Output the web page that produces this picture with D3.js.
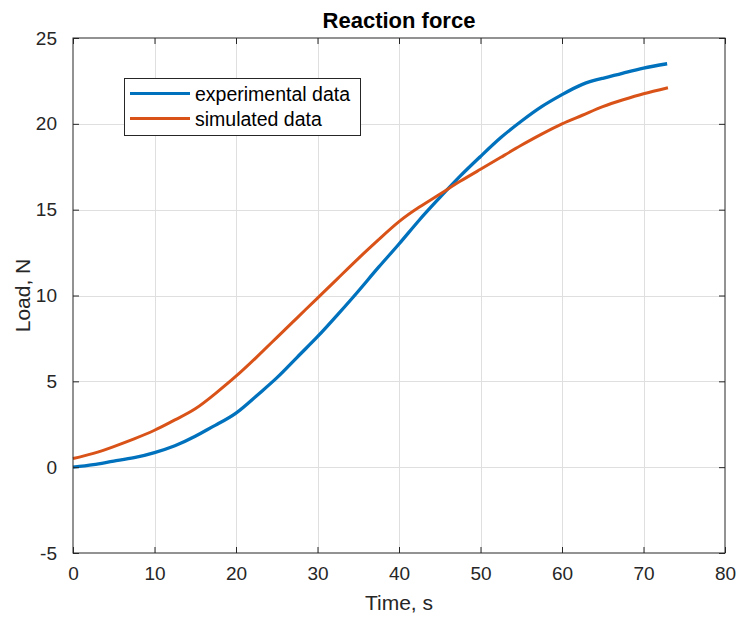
<!DOCTYPE html>
<html>
<head>
<meta charset="utf-8">
<script src="https://cdn.jsdelivr.net/npm/d3@7.9.0/dist/d3.min.js"></script>
<style>
  body { margin: 0; background: #fff; }
  svg { display: block; font-family: "Liberation Sans", Arial, Helvetica, sans-serif; }
  .tick text { fill: #262626; }
</style>
</head>
<body>
<div id="chart"></div>
<script>
// time samples (s)
const timeExp = [0, 2.5, 5, 7.5, 10, 12.5, 15, 17.5, 20, 22.5, 25, 27.5, 30, 32.5, 35, 37.5,
  40, 42.5, 45, 47.5, 50, 52.5, 55, 57.5, 60, 62.5, 65, 67.5, 70, 72.9];
const experimental = [0, 0.15, 0.35, 0.55, 0.85, 1.25, 1.8, 2.45, 3.15, 4.15, 5.2, 6.4, 7.6, 8.9, 10.25, 11.65,
  13.0, 14.4, 15.7, 16.95, 18.1, 19.2, 20.15, 21.0, 21.7, 22.3, 22.65, 22.95, 23.25, 23.5];

const timeSim = [0, 2.5, 5, 7.5, 10, 12.5, 15, 17.5, 20, 22.5, 25, 27.5, 30, 32.5, 35, 37.5,
  40, 42.5, 45, 47.5, 50, 52.5, 55, 57.5, 60, 62.5, 65, 67.5, 70, 73];
const simulated = [0.5, 0.8, 1.2, 1.65, 2.15, 2.75, 3.4, 4.3, 5.3, 6.4, 7.55, 8.7, 9.85, 11.0, 12.15, 13.25,
  14.3, 15.15, 15.9, 16.65, 17.35, 18.05, 18.75, 19.4, 20.0, 20.5, 21.0, 21.4, 21.75, 22.1];

const xTicks = [0, 10, 20, 30, 40, 50, 60, 70, 80];
const yTicks = [-5, 0, 5, 10, 15, 20, 25];

const seriesNames = ['experimental data', 'simulated data'];
const colors = ['#0072BD', '#D95319'];

const width = 739, height = 617;
const plot = { left: 73, right: 725, top: 38, bottom: 553 };

const svg = d3.select('#chart').append('svg')
  .attr('width', width)
  .attr('height', height);

const x = d3.scaleLinear().domain([0, 80]).range([plot.left, plot.right]);
const y = d3.scaleLinear().domain([-5, 25]).range([plot.bottom, plot.top]);

// gridlines
const grid = svg.append('g').attr('stroke', '#dfdfdf').attr('stroke-width', 1);
grid.selectAll('line.gx')
  .data(xTicks.slice(1, -1))
  .join('line')
  .attr('x1', d => Math.round(x(d)) + 0.5).attr('x2', d => Math.round(x(d)) + 0.5)
  .attr('y1', plot.top).attr('y2', plot.bottom);
grid.selectAll('line.gy')
  .data(yTicks.slice(1, -1))
  .join('line')
  .attr('y1', d => Math.round(y(d)) + 0.5).attr('y2', d => Math.round(y(d)) + 0.5)
  .attr('x1', plot.left).attr('x2', plot.right);

// lines
const series = [
  { t: timeExp, v: experimental },
  { t: timeSim, v: simulated },
];
const line = d3.line()
  .x(d => x(d[0]))
  .y(d => y(d[1]))
  .curve(d3.curveNatural);

svg.append('g').selectAll('path')
  .data(series)
  .join('path')
  .attr('fill', 'none')
  .attr('stroke', (d, i) => colors[i])
  .attr('stroke-width', (d, i) => i === 0 ? 3.3 : 3)
  .attr('stroke-linejoin', 'round')
  .attr('d', d => line(d.t.map((t, i) => [t, d.v[i]])));

// axes (ticks inward, box on)
const axisColor = '#262626';
const fmt = d => String(d); // plain hyphen minus like the original
function styleAxis(g) {
  g.select('.domain').remove();
  g.selectAll('.tick line').attr('stroke', axisColor);
  g.selectAll('.tick text').style('font-size', '19px');
}

svg.append('g')
  .attr('transform', `translate(0,${plot.bottom})`)
  .call(d3.axisBottom(x).tickValues(xTicks).tickFormat(fmt).tickSizeInner(-6).tickSizeOuter(0).tickPadding(14))
  .call(styleAxis);

svg.append('g')
  .attr('transform', `translate(0,${plot.top})`)
  .call(d3.axisTop(x).tickValues(xTicks).tickSizeInner(-6).tickSizeOuter(0).tickFormat(''))
  .call(styleAxis);

svg.append('g')
  .attr('transform', `translate(${plot.left},0)`)
  .call(d3.axisLeft(y).tickValues(yTicks).tickFormat(fmt).tickSizeInner(-6).tickSizeOuter(0).tickPadding(16))
  .call(styleAxis);

svg.append('g')
  .attr('transform', `translate(${plot.right},0)`)
  .call(d3.axisRight(y).tickValues(yTicks).tickSizeInner(-6).tickSizeOuter(0).tickFormat(''))
  .call(styleAxis);

svg.append('rect')
  .attr('x', plot.left).attr('y', plot.top)
  .attr('width', plot.right - plot.left).attr('height', plot.bottom - plot.top)
  .attr('fill', 'none')
  .attr('stroke', axisColor)
  .attr('stroke-width', 1);

// title and labels
svg.append('text')
  .attr('x', (plot.left + plot.right) / 2).attr('y', 28)
  .attr('text-anchor', 'middle')
  .attr('font-weight', 'bold')
  .attr('font-size', 22)
  .attr('fill', '#000')
  .text('Reaction force');

svg.append('text')
  .attr('x', (plot.left + plot.right) / 2).attr('y', 610)
  .attr('text-anchor', 'middle')
  .attr('font-size', 21)
  .attr('fill', axisColor)
  .text('Time, s');

svg.append('text')
  .attr('transform', `translate(30,${(plot.top + plot.bottom) / 2}) rotate(-90)`)
  .attr('text-anchor', 'middle')
  .attr('font-size', 21)
  .attr('fill', axisColor)
  .text('Load, N');

// legend
const legend = svg.append('g');
legend.append('rect')
  .attr('x', 124.5).attr('y', 78.5)
  .attr('width', 236).attr('height', 57)
  .attr('fill', '#fff')
  .attr('stroke', axisColor)
  .attr('stroke-width', 1);

const entries = legend.selectAll('g.entry')
  .data(seriesNames)
  .join('g')
  .attr('transform', (d, i) => `translate(0,${93.5 + i * 25})`);

entries.append('line')
  .attr('x1', 130).attr('x2', 190)
  .attr('stroke', (d, i) => colors[i])
  .attr('stroke-width', 3);

entries.append('text')
  .attr('x', 195).attr('y', 7)
  .attr('font-size', 19.5)
  .attr('fill', '#000')
  .text(d => d);
</script>
</body>
</html>
